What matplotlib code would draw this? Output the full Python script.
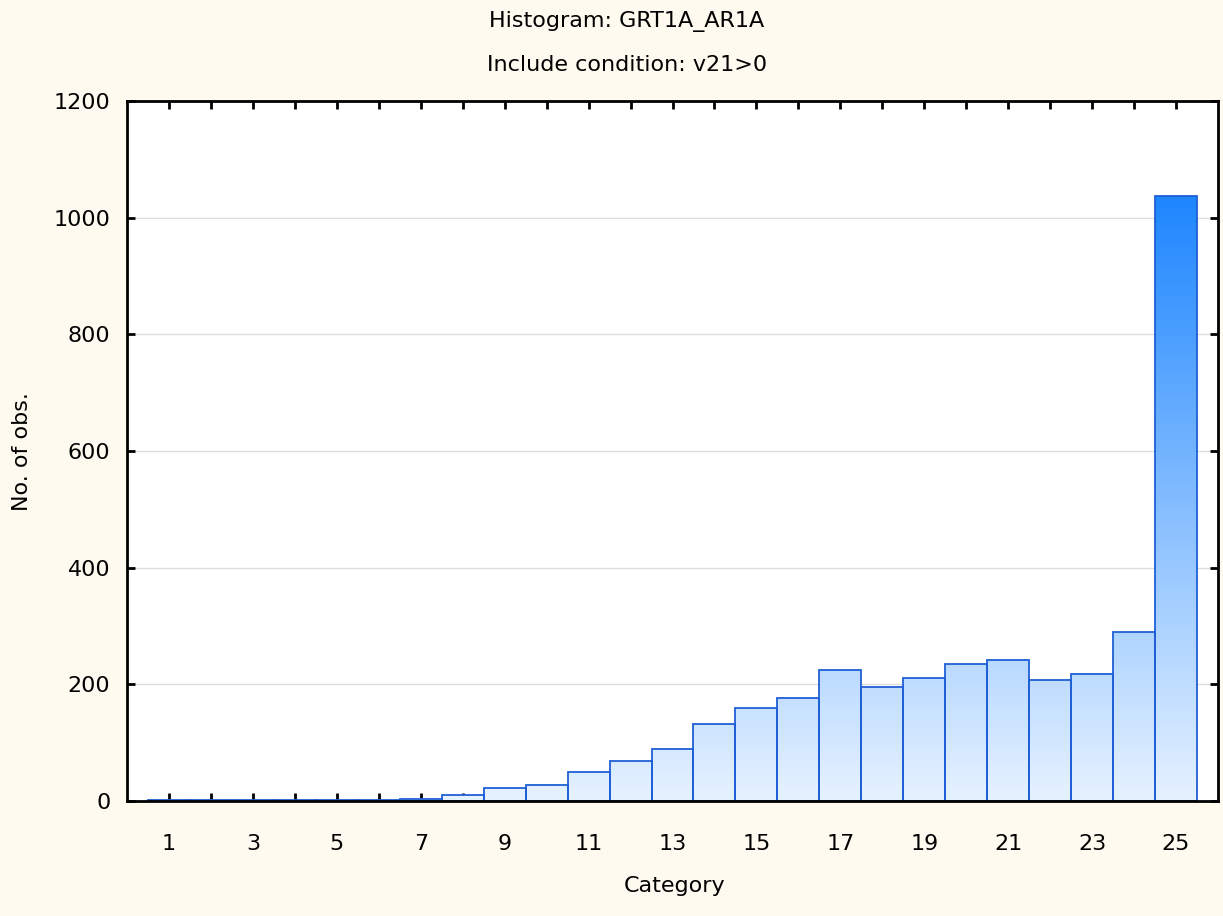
import matplotlib
matplotlib.use('Agg')
import matplotlib.pyplot as plt
import numpy as np
from matplotlib.colors import LinearSegmentedColormap

#========================================================================
# dados
#========================================================================
categories = list(range(1, 26))
counts = [2, 2, 2, 2, 2, 2, 4, 11, 22, 27, 49, 68, 90, 132, 160, 177, 224,
          196, 211, 235, 242, 207, 217, 290, 1037]
yticks = [0, 200, 400, 600, 800, 1000, 1200]

plt.rcParams['font.family'] = ['DejaVu Sans']
fs = 16

fig = plt.figure(figsize=(12.23, 9.16), dpi=100)
fig.patch.set_facecolor('#FFFAEF')
ax = fig.add_axes([127/1223, 1 - 801/916, (1218-127)/1223, (801-101)/916])
ax.set_facecolor('white')

cmap = LinearSegmentedColormap.from_list('grad', ['#E6F2FF', '#1E86FF'])
grad = np.linspace(0, 1, 256).reshape(-1, 1)
top = max(counts)

bars = ax.bar(categories, counts, width=1.0, facecolor='none',
              edgecolor='#1F5FD6', linewidth=1.3, zorder=3)
# gradiente vertical dentro de cada barra
for b in bars:
	x0 = b.get_x()
	im = ax.imshow(grad, cmap=cmap, origin='lower', aspect='auto',
	               extent=(x0, x0 + b.get_width(), 0, top), zorder=2,
	               interpolation='bilinear')
	im.set_clip_path(b)

ax.set_xlim(0, 26)
ax.set_ylim(0, 1200)
ax.set_xticks(categories)
ax.set_xticklabels([str(c) if c % 2 == 1 else '' for c in categories])
ax.set_yticks(yticks)
ax.yaxis.grid(True, color='#DDDDDD', linewidth=1, zorder=0)
ax.set_axisbelow(True)

for s in ax.spines.values():
	s.set_linewidth(2)
	s.set_color('black')
	s.set_zorder(5)
ax.tick_params(direction='in', top=True, right=True, length=6, width=2,
               labelsize=fs, colors='black')
ax.tick_params(axis='x', pad=24)
ax.tick_params(axis='y', pad=12)

fig.text(675/1223, 1 - 886/916, 'Category', ha='center', va='center', fontsize=fs)
fig.text(22/1223, 1 - 452/916, 'No. of obs.', ha='center', va='center', fontsize=fs, rotation=90)

fig.text(627/1223, 1 - 22/916, 'Histogram: GRT1A_AR1A', ha='center', va='center', fontsize=fs)
fig.text(627/1223, 1 - 65/916, 'Include condition: v21>0', ha='center', va='center', fontsize=fs)

fig.savefig('out.png', dpi=100, facecolor=fig.get_facecolor())
